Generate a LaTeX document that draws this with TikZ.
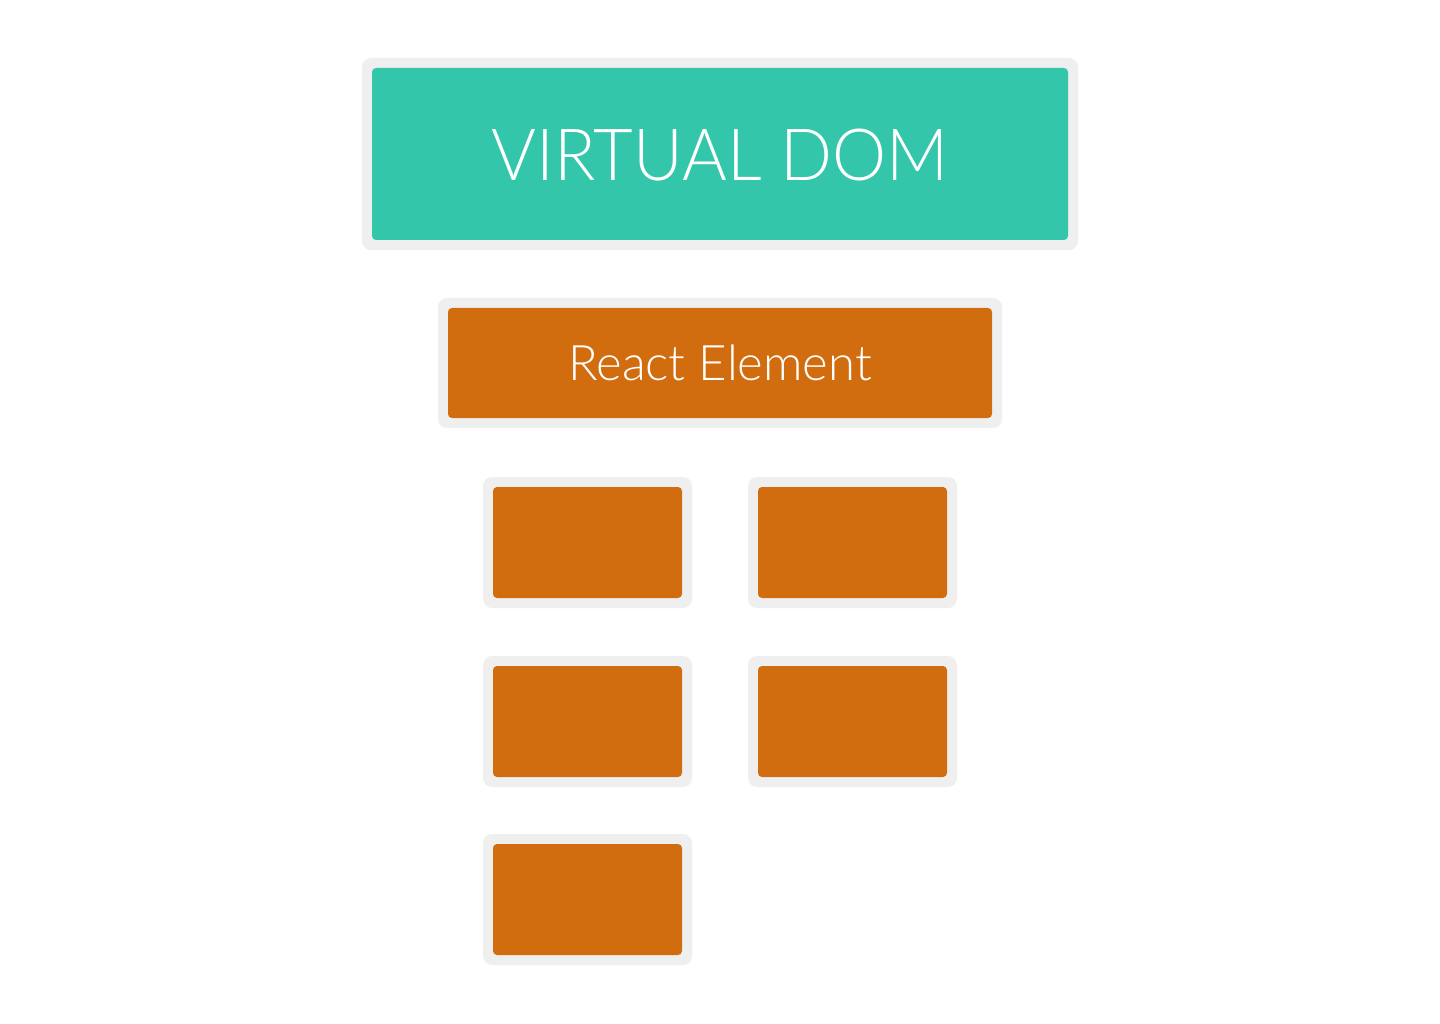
\documentclass[tikz,border=0pt]{standalone}
\usepackage{fontspec}
\setmainfont{Lato}[UprightFont=* Light]
\definecolor{teal}{HTML}{34C6AA}
\definecolor{orng}{HTML}{D26D0F}
\definecolor{frame}{HTML}{EFEFEF}
\begin{document}
\begin{tikzpicture}[x=1pt,y=-1pt,
  outerbox/.style={fill=frame,rounded corners=9pt},
  innerbox/.style={rounded corners=4pt},
  label/.style={text=white,inner sep=0pt}]
\useasboundingbox[fill=white] (0,0) rectangle (1440,1024);
% Virtual DOM
\fill[outerbox] (362,58) rectangle (1078,250);
\fill[innerbox,fill=teal] (372,68) rectangle (1068,240);
\node[label,font=\fontsize{72}{76}\selectfont] (vdom) at (720,155) {\scalebox{0.95}[1]{VIRTUAL DOM}};
% React Element
\fill[outerbox] (438,298) rectangle (1002,428);
\fill[innerbox,fill=orng] (448,308) rectangle (992,418);
\node[label,font=\fontsize{49}{53}\selectfont] (re) at (720,363) {React Element};
% small boxes
\foreach \x/\y in {493/487,758/487,493/666,758/666,493/844}{
  \fill[outerbox] (\x-10,\y-10) rectangle (\x+199,\y+121);
  \fill[innerbox,fill=orng] (\x,\y) rectangle (\x+189,\y+111);
}
\end{tikzpicture}
\end{document}
